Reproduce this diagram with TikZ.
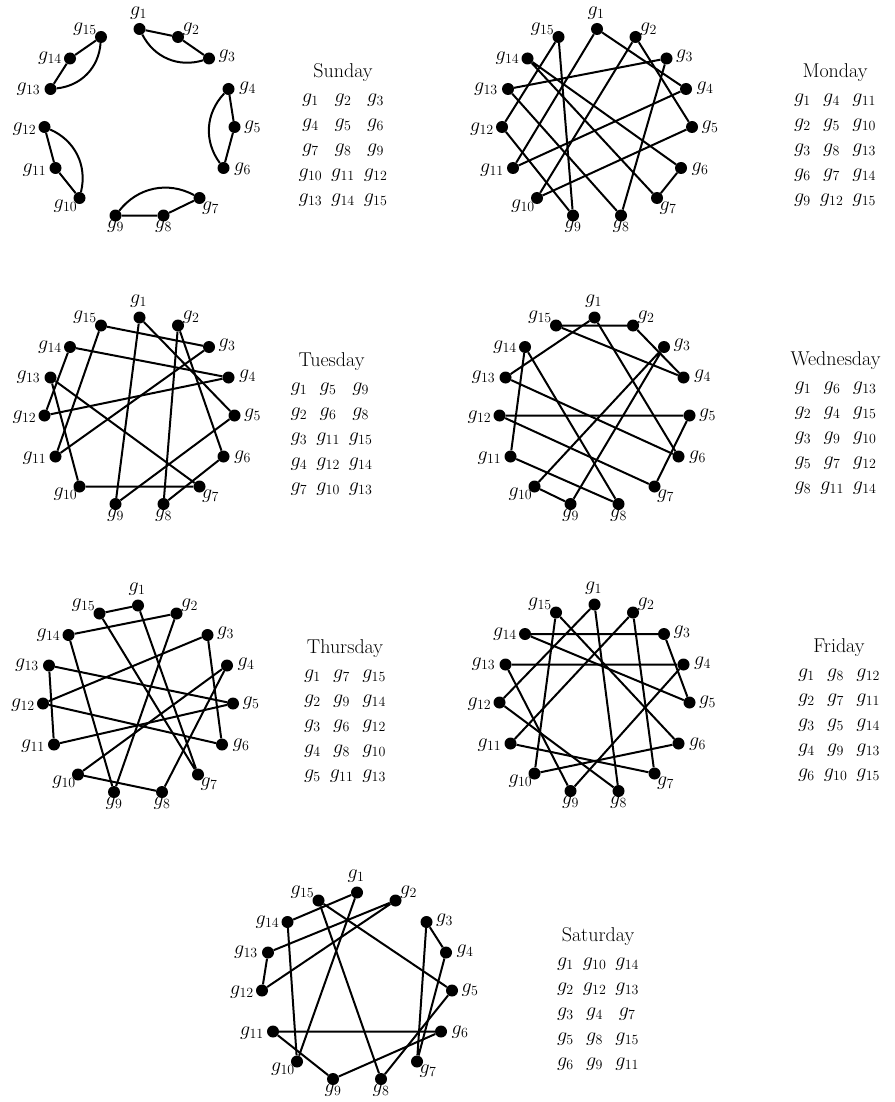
\RequirePackage{fix-cm}
\documentclass[tikz,border=0pt]{standalone}
\setlength{\tabcolsep}{4.5pt}

\begin{document}
\begin{tikzpicture}[x=1pt,y=-1pt,
  every node/.style={font=\fontsize{20}{25}\selectfont},
  pt/.style={circle,fill=black,inner sep=0pt,minimum size=12pt},
  lb/.style={inner sep=0pt},
  ln/.style={line width=2pt},
  tb/.style={anchor=north,inner sep=0pt}
]
\useasboundingbox (0,0) rectangle (894,1102);
% fifteen girls round a circle, one circle per day
\foreach \d/\cx/\cy in {sun/139.5/123,mon/597/123,tue/139.5/411.5,wed/594.5/411.5,thu/138/699.5,fri/594.5/698.5,sat/357/986.5}
  \foreach \i/\x/\y/\lx/\ly in {1/0/-94/-1/-16,2/38.5/-86/13/-8,3/69.5/-64.5/18/-2,4/89/-34/19/-1,
      5/95/4/18/0,6/84/45/19/1,7/60/75/11/10,8/24/92.5/0/11,9/-24/92.5/0/11,10/-60/75/-14/8,
      11/-84/45/-21/2,12/-95/4/-20/2,13/-89/-34/-22/0,14/-69.5/-64.5/-20/0,15/-38.5/-86/-16/-8}
  {
    \node[pt] (\d\i) at (\cx+\x,\cy+\y) {};
    \node[lb] (\d-l\i) at (\cx+\x+\lx,\cy+\y+\ly) {$g_{\i}$};
  }
% Sunday: neighbours walk together
\foreach \a/\b/\c in {1/2/3,4/5/6,7/8/9,10/11/12,13/14/15}
  \draw[ln] (sun\a) -- (sun\b) -- (sun\c) (sun\a) to[bend right=40] (sun\c);
% the other days
\foreach \d/\lst in {mon/{1/4/11,2/5/10,3/8/13,6/7/14,9/12/15},
                     tue/{1/5/9,2/6/8,3/11/15,4/12/14,7/10/13},
                     wed/{1/6/13,2/4/15,3/9/10,5/7/12,8/11/14},
                     thu/{1/7/15,2/9/14,3/6/12,4/8/10,5/11/13},
                     fri/{1/8/12,2/7/11,3/5/14,4/9/13,6/10/15},
                     sat/{1/10/14,2/12/13,3/4/7,5/8/15,6/9/11}}
  \foreach \a/\b/\c in \lst
    \draw[ln] (\d\a) -- (\d\b) -- (\d\c) -- (\d\a);
% tables
\node[tb] (sunT) at (343,59.5) {\begin{tabular}{@{}ccc@{}}
  \multicolumn{3}{@{}c@{}}{\makebox[0pt]{Sunday}}\\
  $g_1$&$g_2$&$g_3$\\ $g_4$&$g_5$&$g_6$\\ $g_7$&$g_8$&$g_9$\\
  $g_{10}$&$g_{11}$&$g_{12}$\\ $g_{13}$&$g_{14}$&$g_{15}$\end{tabular}};
\node[tb] (monT) at (835,59.5) {\begin{tabular}{@{}ccc@{}}
  \multicolumn{3}{@{}c@{}}{\makebox[0pt]{Monday}}\\
  $g_1$&$g_4$&$g_{11}$\\ $g_2$&$g_5$&$g_{10}$\\ $g_3$&$g_8$&$g_{13}$\\
  $g_6$&$g_7$&$g_{14}$\\ $g_9$&$g_{12}$&$g_{15}$\end{tabular}};
\node[tb] (tueT) at (331.5,348.5) {\begin{tabular}{@{}ccc@{}}
  \multicolumn{3}{@{}c@{}}{\makebox[0pt]{Tuesday}}\\
  $g_1$&$g_5$&$g_9$\\ $g_2$&$g_6$&$g_8$\\ $g_3$&$g_{11}$&$g_{15}$\\
  $g_4$&$g_{12}$&$g_{14}$\\ $g_7$&$g_{10}$&$g_{13}$\end{tabular}};
\node[tb] (wedT) at (835.5,348) {\begin{tabular}{@{}ccc@{}}
  \multicolumn{3}{@{}c@{}}{\makebox[0pt]{Wednesday}}\\
  $g_1$&$g_6$&$g_{13}$\\ $g_2$&$g_4$&$g_{15}$\\ $g_3$&$g_9$&$g_{10}$\\
  $g_5$&$g_7$&$g_{12}$\\ $g_8$&$g_{11}$&$g_{14}$\end{tabular}};
\node[tb] (thuT) at (345,636) {\begin{tabular}{@{}ccc@{}}
  \multicolumn{3}{@{}c@{}}{\makebox[0pt]{Thursday}}\\
  $g_1$&$g_7$&$g_{15}$\\ $g_2$&$g_9$&$g_{14}$\\ $g_3$&$g_6$&$g_{12}$\\
  $g_4$&$g_8$&$g_{10}$\\ $g_5$&$g_{11}$&$g_{13}$\end{tabular}};
\node[tb] (friT) at (839,635) {\begin{tabular}{@{}ccc@{}}
  \multicolumn{3}{@{}c@{}}{\makebox[0pt]{Friday}}\\
  $g_1$&$g_8$&$g_{12}$\\ $g_2$&$g_7$&$g_{11}$\\ $g_3$&$g_5$&$g_{14}$\\
  $g_4$&$g_9$&$g_{13}$\\ $g_6$&$g_{10}$&$g_{15}$\end{tabular}};
\node[tb] (satT) at (598,923.5) {\begin{tabular}{@{}ccc@{}}
  \multicolumn{3}{@{}c@{}}{\makebox[0pt]{Saturday}}\\
  $g_1$&$g_{10}$&$g_{14}$\\ $g_2$&$g_{12}$&$g_{13}$\\ $g_3$&$g_4$&$g_7$\\
  $g_5$&$g_8$&$g_{15}$\\ $g_6$&$g_9$&$g_{11}$\end{tabular}};
\end{tikzpicture}
\end{document}
